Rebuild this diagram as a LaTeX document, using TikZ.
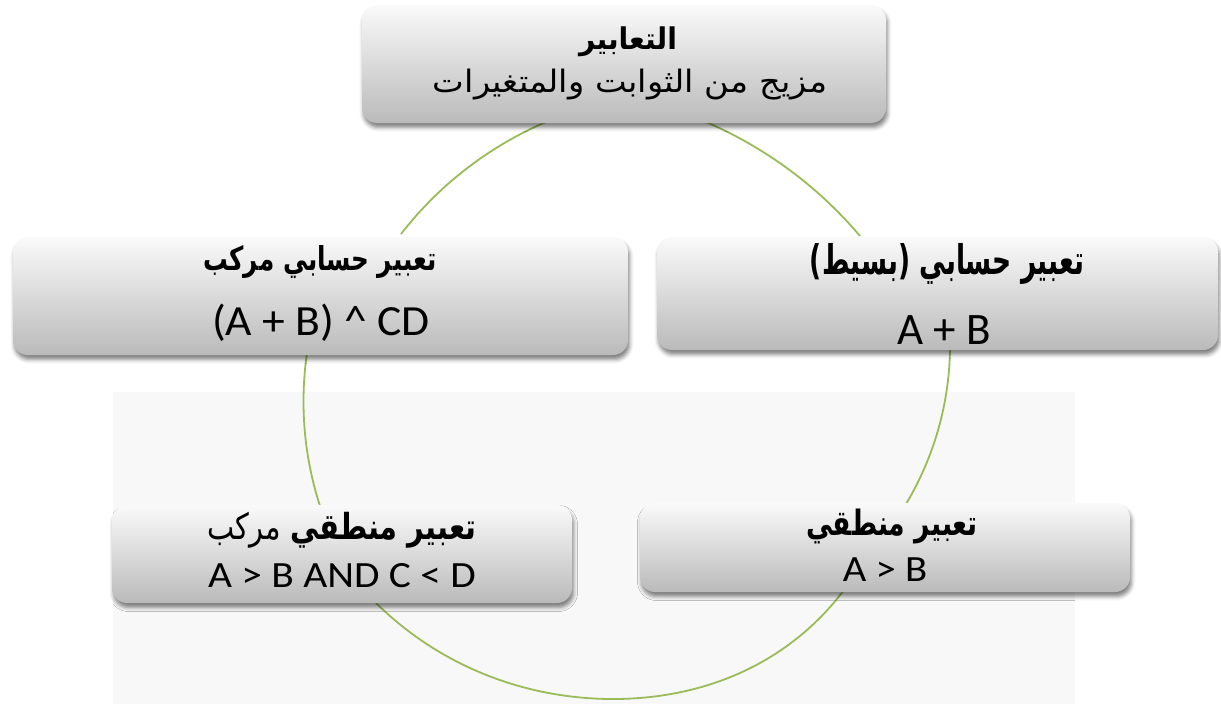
\documentclass[tikz,border=0pt]{standalone}
\usepackage{fontspec}
\usepackage{graphicx}
\setmainfont{Carlito}
\newfontfamily\arabicfont[Script=Arabic]{DejaVu Sans}
\TeXXeTstate=1
\usetikzlibrary{shadows.blur,hobby}
\definecolor{ringgreen}{HTML}{9BBB59}
\definecolor{scanbg}{HTML}{F8F8F8}
\newcommand{\artext}[3]{\resizebox*{#1}{#2}{\arabicfont #3}}
\newcommand{\lattext}[3]{\scalebox{#2}[1]{\fontsize{#1}{#1}\selectfont #3}}
\begin{document}
\begin{tikzpicture}[x=1pt,y=-1pt,
  ring/.style={draw=ringgreen,line width=1.8pt},
  box/.style={rectangle,rounded corners=15pt,top color=black!2,bottom color=black!27,
    draw=none,inner sep=0pt,
    blur shadow={shadow xshift=1.5pt,shadow yshift=-4.5pt,shadow blur radius=4pt,shadow opacity=50}},
  txt/.style={inner sep=0pt,text=black},
]
\useasboundingbox (0,0) rectangle (1221,704);
\fill[scanbg] (113,392) rectangle (1075,704);
% arc end points (on the box borders)
\coordinate (c1a) at (706,122);
\coordinate (c1b) at (860,236);
\coordinate (c2a) at (950,348);
\coordinate (c2b) at (906,504);
\coordinate (c3a) at (844,590);
\coordinate (c3b) at (376,603);
\coordinate (c4a) at (320,506);
\coordinate (c4b) at (307,353);
\coordinate (c5a) at (401,234);
\coordinate (c5b) at (546,122);
% cycle arcs
\draw[ring] (c1a) to[curve through={(800,178)}] (c1b);
\draw[ring] (c2a) to[curve through={(940,423)}] (c2b);
\draw[ring] (c3a) to[curve through={(760,663) .. (610,699) .. (470,668)}] (c3b);
\draw[ring] (c4a) to[curve through={(304,420)}] (c4b);
\draw[ring] (c5a) to[curve through={(470,166)}] (c5b);
% boxes
\node[box,minimum width=524pt,minimum height=118pt] (expr) at (624,64) {};
\node[box,minimum width=615pt,minimum height=118pt] (arcmp) at (320.5,296) {};
\node[box,minimum width=561pt,minimum height=113pt] (arsim) at (937.5,293.5) {};
\node[box,minimum width=460pt,minimum height=98pt] (lgcmp) at (342,554) {};
\node[box,minimum width=490pt,minimum height=89pt] (lgsim) at (885,547.5) {};
% texts
\node[txt] (exprT) at (628,42) {\artext{98pt}{30pt}{\bfseries\beginR التعابير\endR}};
\node[txt] (exprS) at (630,85) {\artext{394pt}{31pt}{\beginR مزيج من الثوابت والمتغيرات\endR}};
\node[txt] (arcmpT) at (320,262) {\artext{233pt}{33pt}{\bfseries\beginR تعبير حسابي مركب\endR}};
\node[txt,anchor=base] (arcmpS) at (321,335) {\lattext{43}{1.06}{(A + B) \textasciicircum\ CD}};
\node[txt] (arsimT) at (947,264) {\artext{274pt}{41pt}{\bfseries\beginR تعبير حسابي (بسيط)\endR}};
\node[txt,anchor=base] (arsimS) at (944,344) {\lattext{45}{1.0}{A + B}};
\node[txt] (lgcmpT) at (342,530) {\artext{269pt}{36pt}{\beginR{\bfseries تعبير منطقي} مركب\endR}};
\node[txt,anchor=base] (lgcmpS) at (342,587) {\lattext{37}{1.12}{A > B AND C < D}};
\node[txt] (lgsimT) at (892,527) {\artext{172pt}{35pt}{\bfseries\beginR تعبير منطقي\endR}};
\node[txt,anchor=base] (lgsimS) at (885,581) {\lattext{37}{1.1}{A > B}};
\end{tikzpicture}
\end{document}
